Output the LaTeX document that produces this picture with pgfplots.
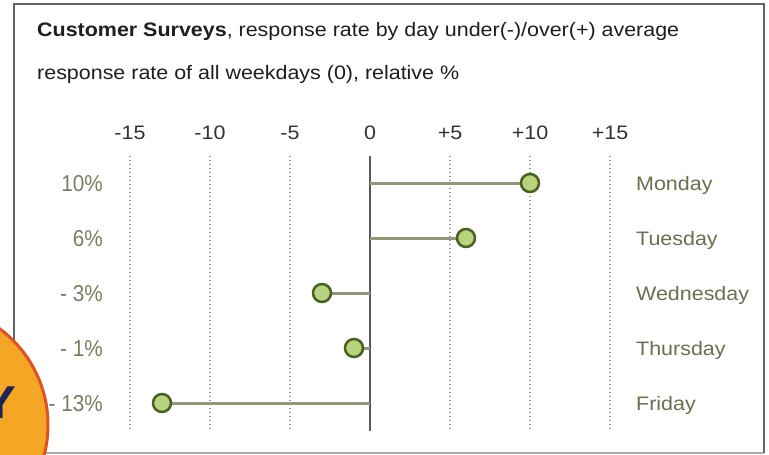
\documentclass[border=0pt]{standalone}
\usepackage{fontspec}
\setmainfont{Liberation Sans}[FakeStretch=1.10]
\newfontfamily\valfont{Liberation Sans}[FakeStretch=0.90]
\usepackage{pgfplots}
\pgfplotsset{compat=1.18}

\definecolor{framedark}{RGB}{100,100,100}
\definecolor{framelight}{RGB}{175,175,175}
\definecolor{titlecol}{RGB}{30,30,30}
\definecolor{tickcol}{RGB}{50,50,50}
\definecolor{valcol}{RGB}{120,126,96}
\definecolor{daycol}{RGB}{104,112,78}
\definecolor{stemcol}{RGB}{145,152,118}
\definecolor{dotfill}{RGB}{185,210,128}
\definecolor{dotedge}{RGB}{72,98,30}
\definecolor{zerocol}{RGB}{90,90,90}
\definecolor{gridcol}{RGB}{150,150,150}
\definecolor{badgefill}{RGB}{245,166,36}
\definecolor{badgeedge}{RGB}{222,82,36}
\definecolor{badgetext}{RGB}{27,36,88}

\newcommand{\lbl}{\fontsize{19.5}{23}\selectfont}
\newcommand{\vlbl}{\valfont\fontsize{23}{26}\selectfont}

\begin{document}
\begin{tikzpicture}[x=1pt,y=1pt]
\useasboundingbox (0,0) rectangle (769,-455);
\begin{scope}
\clip (0,0) rectangle (769,-455);

% panel frame
\fill[white] (14,-4) rectangle (764,-453);
\draw[framelight, line width=1.4pt] (14,-453) -- (764,-453);
\draw[framedark, line width=2.2pt] (14,-453) -- (14,-4) -- (764,-4) -- (764,-453);

% heading
\node[anchor=base west, inner sep=0, text=titlecol, font=\lbl] at (37,-36.5)
  {\textbf{Customer Surveys}, response rate by day under(-)/over(+) average};
\node[anchor=base west, inner sep=0, text=titlecol, font=\lbl] at (37,-79.5)
  {response rate of all weekdays (0), relative \%};

\begin{axis}[
  at={(130pt,-430.5pt)}, anchor=south west,
  scale only axis, width=480pt, height=275pt,
  xmin=-15, xmax=15, ymin=0.5, ymax=5.5,
  y dir=reverse,
  clip=false,
  axis line style={draw=none},
  major tick style={draw=none},
  xtick={-15,-10,-5,5,10,15},
  xticklabels={-15,-10,-5,+5,+10,+15},
  xticklabel pos=upper,
  xticklabel style={font=\lbl, text=tickcol, anchor=base, yshift=16.5pt},
  extra x ticks={0},
  extra x tick labels={0},
  extra x tick style={xticklabel pos=upper,
    major grid style={solid, zerocol, line width=2pt}},
  xmajorgrids,
  major grid style={gridcol, line width=1.5pt, dash pattern=on 1.5pt off 2.5pt},
  ytick=\empty,
]
% stems from the zero line to each day's value, with the marker at the end
\addplot[xcomb, stemcol, line width=3pt,
  mark=*, mark size=9pt,
  mark options={fill=dotfill, draw=dotedge, line width=2.5pt}]
  coordinates {(10,1) (6,2) (-3,3) (-1,4) (-13,5)};

% value labels on the left
\node[anchor=base east, inner sep=0, text=valcol, font=\vlbl, xshift=-27pt, yshift=-8.3pt] at (axis cs:-15,1) {10\%};
\node[anchor=base east, inner sep=0, text=valcol, font=\vlbl, xshift=-27pt, yshift=-8.3pt] at (axis cs:-15,2) {6\%};
\node[anchor=base east, inner sep=0, text=valcol, font=\vlbl, xshift=-27pt, yshift=-8.3pt] at (axis cs:-15,3) {- 3\%};
\node[anchor=base east, inner sep=0, text=valcol, font=\vlbl, xshift=-27pt, yshift=-8.3pt] at (axis cs:-15,4) {- 1\%};
\node[anchor=base east, inner sep=0, text=valcol, font=\vlbl, xshift=-27pt, yshift=-8.3pt] at (axis cs:-15,5) {- 13\%};

% day names on the right
\node[anchor=base west, inner sep=0, text=daycol, font=\lbl, xshift=26pt, yshift=-7pt] at (axis cs:15,1) {Monday};
\node[anchor=base west, inner sep=0, text=daycol, font=\lbl, xshift=26pt, yshift=-7pt] at (axis cs:15,2) {Tuesday};
\node[anchor=base west, inner sep=0, text=daycol, font=\lbl, xshift=26pt, yshift=-7pt] at (axis cs:15,3) {Wednesday};
\node[anchor=base west, inner sep=0, text=daycol, font=\lbl, xshift=26pt, yshift=-7pt] at (axis cs:15,4) {Thursday};
\node[anchor=base west, inner sep=0, text=daycol, font=\lbl, xshift=26pt, yshift=-7pt] at (axis cs:15,5) {Friday};
\end{axis}

% round badge at the lower left corner
\draw[fill=badgefill, draw=badgeedge, line width=3pt] (-72,-425) circle (120);
\node[anchor=base east, inner sep=0, text=badgetext, font=\fontsize{46}{50}\selectfont\bfseries] at (16,-418) {Y};
\end{scope}
\end{tikzpicture}
\end{document}
